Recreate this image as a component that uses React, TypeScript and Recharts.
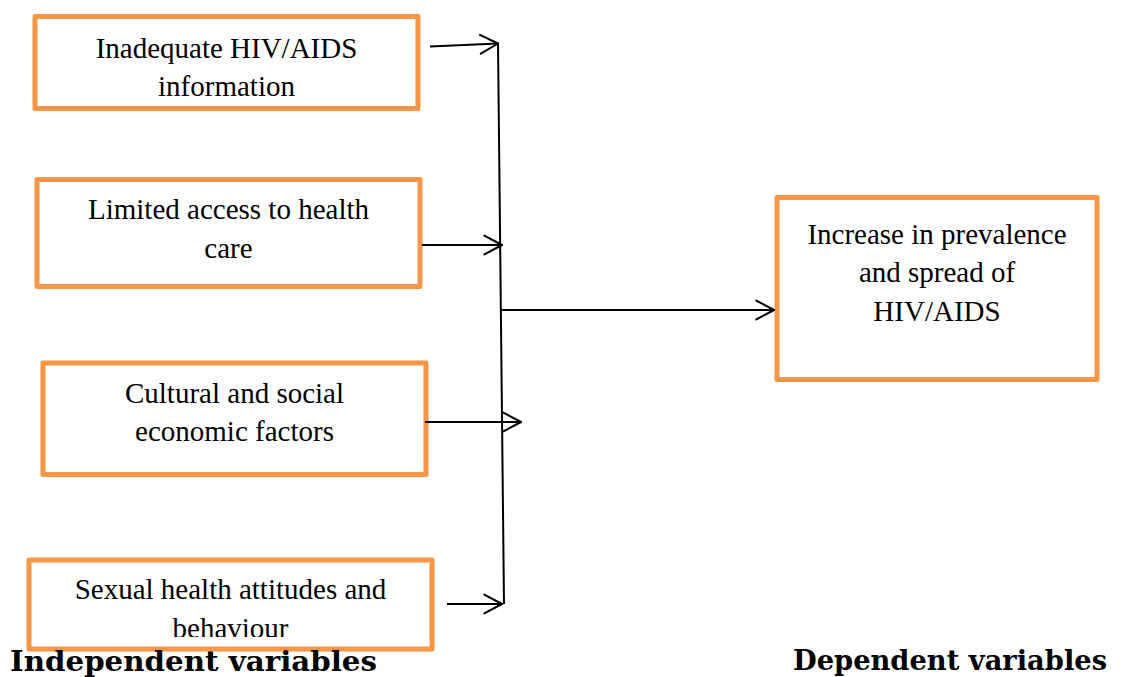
import { ComposedChart, XAxis, YAxis, ReferenceArea, ReferenceLine } from 'recharts';

// diagram drawn in a pixel-sized data space (x 0..1122, y 0..677 from top)
const W = 1122;
const H = 677;

const ORANGE = '#f79646';

const boxes = [
  { id: 'info', lines: ['Inadequate HIV/AIDS', 'information'], x1: 35, x2: 418, y1: 16.5, y2: 108.5, pad: 41 },
  { id: 'access', lines: ['Limited access to health', 'care'], x1: 37, x2: 420, y1: 179.5, y2: 286.5, pad: 39.5 },
  { id: 'culture', lines: ['Cultural and social', 'economic factors'], x1: 43, x2: 426, y1: 363, y2: 474.5, pad: 39.5 },
  { id: 'sexual', lines: ['Sexual health attitudes and', 'behaviour'], x1: 29, x2: 432, y1: 560, y2: 649, pad: 39 },
  { id: 'outcome', lines: ['Increase in prevalence', 'and spread of', 'HIV/AIDS'], x1: 777, x2: 1097, y1: 197.5, y2: 379.5, pad: 46 },
];

const arrows = [
  { x1: 430, y1: 46.5, x2: 498, y2: 43.5 },
  { x1: 422, y1: 245, x2: 502, y2: 245 },
  { x1: 500, y1: 310, x2: 774, y2: 310 },
  { x1: 425, y1: 422, x2: 521, y2: 422 },
  { x1: 447, y1: 604, x2: 502, y2: 604 },
];

const spine = { x1: 498, y1: 43, x2: 504, y2: 604 };

const captions = [
  { text: 'Independent variables', x1: 10, x2: 377, y1: 648, y2: 670.5 },
  { text: 'Dependent variables', x1: 793, x2: 1107, y1: 648, y2: 669.5 },
];

function headSegments(a: { x1: number; y1: number; x2: number; y2: number }) {
  const ang = Math.atan2(a.y2 - a.y1, a.x2 - a.x1);
  const len = 20;
  const spread = 0.49;
  return [ang + spread, ang - spread].map((t) => [
    { x: a.x2, y: a.y2 },
    { x: a.x2 - len * Math.cos(t), y: a.y2 - len * Math.sin(t) },
  ]);
}

function BoxShape(props: any) {
  const { x, y, width, height, lines, pad, id } = props;
  const cx = x + width / 2;
  return (
    <g>
      <rect x={x} y={y} width={width} height={height} fill="#fff" stroke={ORANGE} strokeWidth={5} strokeLinejoin="round" />
      <clipPath id={`clip-${id}`}>
        <rect x={x} y={y} width={width} height={height - 12} />
      </clipPath>
      <g clipPath={`url(#clip-${id})`}>
        {lines.map((l: string, i: number) => (
          <text key={i} x={cx} y={y + pad + i * 38.5} textAnchor="middle" fontFamily="'Liberation Serif', 'Times New Roman', serif" fontSize={29} fill="#000">
            {l}
          </text>
        ))}
      </g>
    </g>
  );
}

function CaptionShape(props: any) {
  const { x, y, width, height, text } = props;
  return (
    <text
      x={x}
      y={y + height}
      fontFamily="'DejaVu Serif', serif"
      fontWeight="bold"
      fontSize={28}
      textLength={width}
      lengthAdjust="spacingAndGlyphs"
      fill="#000"
    >
      {text}
    </text>
  );
}

export default function App() {
  return (
    <div style={{ position: 'fixed', left: 0, top: 0, width: W, height: H, background: '#fff', overflow: 'visible' }}>
      <style>{'html, body { margin: 0; padding: 0; overflow: hidden; }'}</style>
      <ComposedChart width={W} height={H} margin={{ top: 0, right: 0, bottom: 0, left: 0 }} style={{ overflow: 'visible' }}>
        <XAxis type="number" dataKey="x" domain={[0, W]} hide allowDataOverflow />
        <YAxis type="number" dataKey="y" domain={[0, H]} reversed hide allowDataOverflow />
        {boxes.map((b) => (
          <ReferenceArea
            key={b.id}
            x1={b.x1}
            x2={b.x2}
            y1={b.y1}
            y2={b.y2}
            ifOverflow="visible"
            shape={(p: any) => <BoxShape {...p} lines={b.lines} pad={b.pad} id={b.id} />}
          />
        ))}
        <ReferenceLine
          segment={[{ x: spine.x1, y: spine.y1 }, { x: spine.x2, y: spine.y2 }]}
          stroke="#000"
          strokeWidth={2}
          ifOverflow="visible"
        />
        {arrows.map((a, i) => (
          <ReferenceLine
            key={`a${i}`}
            segment={[{ x: a.x1, y: a.y1 }, { x: a.x2, y: a.y2 }]}
            stroke="#000"
            strokeWidth={2}
            ifOverflow="visible"
          />
        ))}
        {arrows.flatMap((a, i) =>
          headSegments(a).map((s, j) => (
            <ReferenceLine key={`h${i}-${j}`} segment={s} stroke="#000" strokeWidth={2} strokeLinecap="round" ifOverflow="visible" />
          )),
        )}
        {captions.map((c) => (
          <ReferenceArea
            key={c.text}
            x1={c.x1}
            x2={c.x2}
            y1={c.y1}
            y2={c.y2}
            ifOverflow="visible"
            shape={(p: any) => <CaptionShape {...p} text={c.text} />}
          />
        ))}
      </ComposedChart>
    </div>
  );
}
